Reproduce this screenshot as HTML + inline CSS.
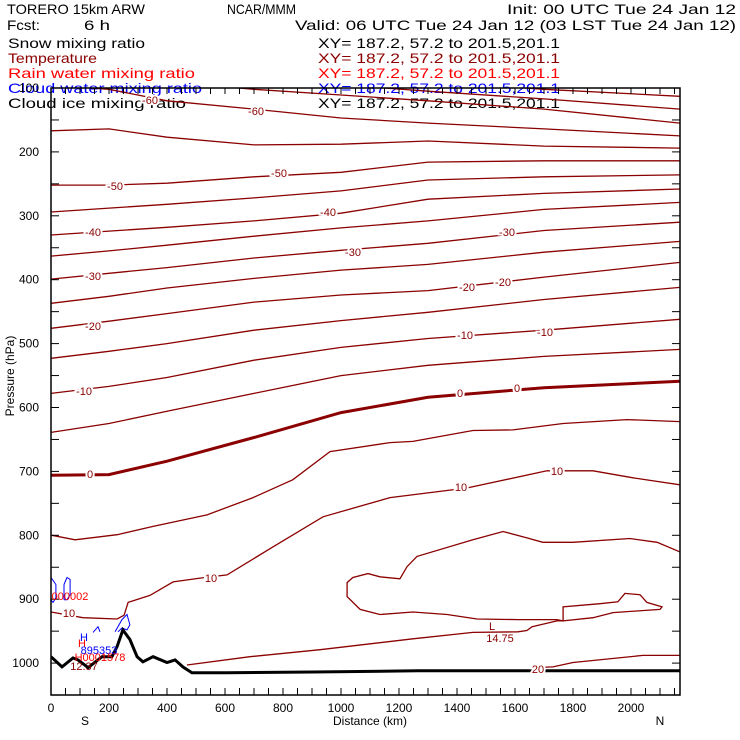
<!DOCTYPE html>
<html><head><meta charset="utf-8"><style>
html,body{margin:0;padding:0;background:#fff;}
svg{display:block;font-family:"Liberation Sans",sans-serif;}
</style></head><body>
<svg id="chart" width="740" height="740" viewBox="0 0 740 740" xmlns="http://www.w3.org/2000/svg">
<g font-size="14">
<text x="7" y="14" textLength="138" lengthAdjust="spacingAndGlyphs">TORERO  15km ARW</text>
<text x="227" y="14" textLength="69" lengthAdjust="spacingAndGlyphs">NCAR/MMM</text>
<text x="507" y="14" textLength="229" lengthAdjust="spacingAndGlyphs">Init: 00 UTC Tue 24 Jan 12</text>
<text x="7" y="30" textLength="33" lengthAdjust="spacingAndGlyphs">Fcst:</text>
<text x="84" y="30" textLength="26" lengthAdjust="spacingAndGlyphs">6 h</text>
<text x="295" y="30" textLength="441" lengthAdjust="spacingAndGlyphs">Valid: 06 UTC Tue 24 Jan 12 (03 LST Tue 24 Jan 12)</text>
<text x="8" y="48" fill="#000" textLength="137" lengthAdjust="spacingAndGlyphs">Snow mixing ratio</text>
<text x="318" y="48" fill="#000" textLength="242" lengthAdjust="spacingAndGlyphs">XY= 187.2, 57.2 to 201.5,201.1</text>
<text x="8" y="63" fill="#8b0000" textLength="89" lengthAdjust="spacingAndGlyphs">Temperature</text>
<text x="318" y="63" fill="#8b0000" textLength="242" lengthAdjust="spacingAndGlyphs">XY= 187.2, 57.2 to 201.5,201.1</text>
<text x="8" y="78" fill="#ff0000" textLength="187" lengthAdjust="spacingAndGlyphs">Rain water mixing ratio</text>
<text x="318" y="78" fill="#ff0000" textLength="242" lengthAdjust="spacingAndGlyphs">XY= 187.2, 57.2 to 201.5,201.1</text>
<text x="8" y="93" fill="#0000ff" textLength="194" lengthAdjust="spacingAndGlyphs">Cloud water mixing ratio</text>
<text x="318" y="93" fill="#0000ff" textLength="242" lengthAdjust="spacingAndGlyphs">XY= 187.2, 57.2 to 201.5,201.1</text>
<text x="8" y="108" fill="#000" textLength="178" lengthAdjust="spacingAndGlyphs">Cloud ice mixing ratio</text>
<text x="318" y="108" fill="#000" textLength="242" lengthAdjust="spacingAndGlyphs">XY= 187.2, 57.2 to 201.5,201.1</text>
</g>
<defs><clipPath id="plotclip"><rect x="51" y="88" width="629" height="607"/></clipPath></defs>
<g id="marks" clip-path="url(#plotclip)"></g>
<g id="axes"></g>
<g id="labels" font-size="11"></g>
</svg>
<script>
// ---- data ----
const xsUpper = [0, 200, 400, 700, 1000, 1300, 1700, 2169];
const tUpperValues = [0, -5, -10, -15, -20, -25, -30, -35, -40, -45, -50, -55, -60, -65, -70, -75];
const tUpperPres = [
 [706,705,684,647,608,584,569,559],
 [639,625,606,578,550,534,520,509],
 [578,567,553,526,506,492,479,462],
 [523,512,500,479,464,451,431,412],
 [476,465,453,435,424,417,396,373],
 [437,426,413,398,385,376,357,340],
 [399,390,381,366,354,343,323,310],
 [363,355,346,332,319,308,290,279],
 [330,324,318,308,296,274,265,258],
 [294,288,282,272,261,244,239,236],
 [252,252,249,239,232,216,214,214],
 [167,164,177,189,188,183,191,194],
 [95,102,120,133,147,155,164,175],
 [70,79,90,102,111,120,133,155],
 [47,58,70,86,95,105,117,133],
 [31,42,55,67,78,89,102,113]
];
const t5Dist = [3,83,228,352,538,697,834,962,1169,1248,1455,1593,1766,1986,2169];
const t5Pres = [800,807,799,786,768,741,713,669,655,653,636,635,625,619,622];
const t10Dist = [0,110,228,252,266,341,421,514,607,766,938,1169,1434,1710,1869,2007,2169];
const t10Pres = [920,929,931,925,905,894,873,867,862,818,771,741,726,699,699,710,721];
const t15Dist = [2169,2090,1996,1800,1696,1641,1559,1455,1262,1228,1203,1134,1093,1041,1021,1021,1066,1134,1248,1366,1469,1610,1745,1766,1766,1893,1955,1979,2031,2055,2107,2100,1938,1869,1766,1745,1659,1641,1610,1455,1248,1134,928,686,469];
const t15Pres = [826,811,805,811,811,804,794,807,833,849,868,865,860,866,874,896,916,924,920,924,931,932,932,934,912,907,904,891,893,905,912,916,921,929,934,934,943,949,951,952,962,968,979,990,1003];
const t20Dist = [1662,1731,1800,2041,2169];
const t20Pres = [1007,1006,999,988,988];
const terrainDist = [0,38,76,93,128,176,210,228,248,272,297,317,352,400,428,455,486,607,903,1265,2169];
const terrainPres = [990,1006,992,995,1007,990,990,974,948,963,990,998,990,999,995,1006,1015,1015,1014,1012,1012];
const cloudDist = [[0,17,17,7,0],[45,45,55,66,66,55,45],[145,162,169],[221,245,262,272,262,245,231]];
const cloudPres = [[866,877,898,905,901],[901,877,866,869,893,901,901],[952,943,951],[951,932,924,940,948,945,951]];
const yTicks = [100,200,300,400,500,600,700,800,900,1000];
const xTicks = [0,200,400,600,800,1000,1200,1400,1600,1800,2000];

// ---- scales ----
const X = d => 51 + d * 0.29;
const Y = p => 88 + (p - 100) * 0.639;
const NS = 'http://www.w3.org/2000/svg';
function mk(tag, attrs, parent){ const e=document.createElementNS(NS,tag); for(const k in attrs) e.setAttribute(k,attrs[k]); parent.appendChild(e); return e; }
const marks = document.getElementById('marks');
const axes = document.getElementById('axes');
const labels = document.getElementById('labels');
function pts(ds, ps){ return ds.map((d,i)=>X(d).toFixed(1)+','+Y(ps[i]).toFixed(1)).join(' '); }

tUpperPres.forEach((row,i)=>{
  const pl = mk('polyline',{points:pts(xsUpper,row),fill:'none',stroke:'#8b0000','stroke-width':tUpperValues[i]===0?3:1.3},marks);
  
  
});
const extra = [[t5Dist,t5Pres,'isotherm-5'],[t10Dist,t10Pres,'isotherm-10'],[t15Dist,t15Pres,'isotherm-15'],[t20Dist,t20Pres,'isotherm-20']];
extra.forEach(e=>{
  const pl = mk('polyline',{points:pts(e[0],e[1]),fill:'none',stroke:'#8b0000','stroke-width':1.3},marks);
  
  
});
cloudDist.forEach((ds,i)=>{
  const pl = mk('polyline',{points:pts(ds,cloudPres[i]),fill:'none',stroke:'#0000ff','stroke-width':1},marks);
  
  
});
const terr = mk('polyline',{points:pts(terrainDist,terrainPres),fill:'none',stroke:'#000','stroke-width':3},marks);



// frame
const fr = mk('rect',{x:51,y:88,width:629,height:607,fill:'none',stroke:'#000','stroke-width':1.5},axes);


for(let d=0; d<=2150; d+=50){
  mk('line',{x1:X(d),x2:X(d),y1:695,y2:688,stroke:'#000','stroke-width':1},axes);
  mk('line',{x1:X(d),x2:X(d),y1:88,y2:94,stroke:'#000','stroke-width':1},axes);
}
for(let p=100; p<=1050; p+=50){
  mk('line',{x1:51,x2:59,y1:Y(p),y2:Y(p),stroke:'#000','stroke-width':1},axes);
  mk('line',{x1:680,x2:672,y1:Y(p),y2:Y(p),stroke:'#000','stroke-width':1},axes);
}
yTicks.forEach(p=>{
  const t = mk('text',{x:39,y:Y(p)+4,'text-anchor':'end','font-size':12},axes);
  t.textContent = p;
  
  
});
xTicks.forEach(d=>{
  const t = mk('text',{x:X(d),y:712,'text-anchor':'middle','font-size':12},axes);
  t.textContent = d;
  
  
});
function txt(x,y,s,name,fill,size,anchor,parent){
  const t = mk('text',{x:x,y:y,'font-size':size||12,fill:fill||'#000','text-anchor':anchor||'middle'},parent||axes);
  t.textContent = s;
  
  
  return t;
}
txt(85,725,'S','south-label');
txt(370,725,'Distance (km)','x-axis-title');
txt(660,725,'N','north-label');
const yt = txt(14,376,'Pressure (hPa)','y-axis-title');
yt.setAttribute('transform','rotate(-90 14 376)');

// contour labels (annotations)
const cl = [[150,104,'-60'],[256,115,'-60'],[115,190,'-50'],[279,177,'-50'],[93,236,'-40'],[328,216,'-40'],[93,280,'-30'],[353,256,'-30'],[507,236,'-30'],[93,330,'-20'],[467,291,'-20'],[503,286,'-20'],[84,395,'-10'],[465,339,'-10'],[545,336,'-10'],[90,478,'0'],[460,397,'0'],[517,392,'0'],[69,617,'10'],[211,582,'10'],[461,491,'10'],[557,475,'10'],[538,673,'20']];
cl.forEach(c=>{
  const t = txt(c[0],c[1],c[2],'contour-label','#8b0000',11,'middle',labels);
  t.setAttribute('stroke','#fff'); t.setAttribute('stroke-width','4'); t.setAttribute('paint-order','stroke');
});
txt(492,630,'L','low-marker','#8b0000',11,'middle',labels);
txt(500,642,'14.75','low-value','#8b0000',11,'middle',labels);
txt(70,600,'000002','rain-max-label','#ff0000',11,'middle',labels);
txt(84,641,'H','cloud-high-marker','#0000ff',11,'middle',labels);
txt(82,647,'H','rain-high-marker','#ff0000',11,'middle',labels);
txt(99,654,'895353','cloud-max-value','#0000ff',11,'middle',labels);
txt(100,661,'H0001578','rain-max-value','#ff0000',11,'middle',labels);
txt(84,670,'12.37','temp-max-value','#8b0000',11,'middle',labels);
</script>
</body></html>
